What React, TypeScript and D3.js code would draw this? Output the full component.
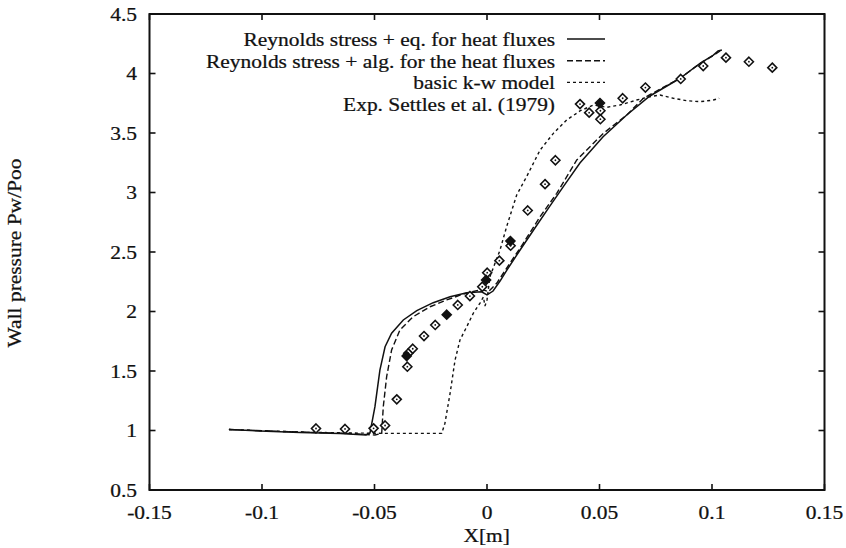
import React from "react";
import * as d3 from "d3";

// Reynolds stress + eq. for heat fluxes (solid)
const rsEqX = [-0.1147, -0.1009, -0.0831, -0.0653, -0.0538, -0.052, -0.0498, -0.0476, -0.0453, -0.0424, -0.0372, -0.0312, -0.0239, -0.0164, -0.009, -0.0024, 0.0, 0.0027, 0.0058, 0.0089, 0.0147, 0.0213, 0.028, 0.0347, 0.0413, 0.0516, 0.0621, 0.0724, 0.0858, 0.0947, 0.1006, 0.1027, 0.1044];
const rsEqY = [1.008, 0.996, 0.983, 0.975, 0.962, 0.979, 1.2, 1.508, 1.704, 1.817, 1.929, 2.007, 2.074, 2.124, 2.158, 2.166, 2.139, 2.172, 2.256, 2.349, 2.517, 2.702, 2.887, 3.071, 3.248, 3.469, 3.651, 3.811, 3.96, 4.086, 4.155, 4.189, 4.197];

// Reynolds stress + alg. for the heat fluxes (dashed)
const rsAlgX = [-0.1147, -0.0831, -0.0609, -0.0498, -0.0468, -0.0461, -0.0446, -0.0424, -0.0387, -0.0328, -0.0253, -0.0179, -0.0105, -0.0046, -0.0016, 0.0006, 0.0043, 0.0102, 0.0161, 0.0236, 0.031, 0.0399, 0.0517, 0.0621, 0.0695, 0.0858, 0.0947, 0.1009, 0.1036];
const rsAlgY = [1.008, 0.987, 0.975, 0.962, 0.976, 1.2, 1.452, 1.676, 1.845, 1.956, 2.04, 2.097, 2.147, 2.175, 2.181, 2.166, 2.237, 2.405, 2.573, 2.797, 2.993, 3.273, 3.497, 3.651, 3.792, 3.96, 4.084, 4.155, 4.189];

// basic k-w model (dotted)
const kwX = [-0.1147, -0.0831, -0.0609, -0.0462, -0.0201, -0.0187, -0.0164, -0.0142, -0.012, -0.009, -0.0061, -0.0031, -0.0016, -0.0009, 0.0, 0.0013, 0.0058, 0.0088, 0.0132, 0.0176, 0.0236, 0.0295, 0.0354, 0.0413, 0.0472, 0.0532, 0.0591, 0.0665, 0.0724, 0.0769, 0.0828, 0.0888, 0.0947, 0.1006, 0.1032];
const kwY = [1.008, 0.987, 0.979, 0.976, 0.976, 1.061, 1.313, 1.592, 1.761, 1.872, 1.985, 2.071, 2.122, 2.046, 2.097, 2.292, 2.517, 2.718, 2.979, 3.133, 3.357, 3.497, 3.609, 3.685, 3.735, 3.716, 3.735, 3.777, 3.805, 3.819, 3.792, 3.771, 3.763, 3.777, 3.792];

// Exp. Settles et al. (1979) - open diamonds
const expX = [-0.076, -0.0631, -0.0504, -0.0453, -0.0401, -0.0354, -0.035, -0.033, -0.028, -0.023, -0.013, -0.0076, -0.0021, 0.0001, 0.0055, 0.0105, 0.0181, 0.0258, 0.0304, 0.0454, 0.0504, 0.0504, 0.0603, 0.0704, 0.0861, 0.0961, 0.1062, 0.1164, 0.1268];
const expY = [1.017, 1.013, 1.018, 1.042, 1.262, 1.536, 1.649, 1.687, 1.794, 1.887, 2.055, 2.13, 2.208, 2.326, 2.427, 2.553, 2.849, 3.07, 3.271, 3.671, 3.687, 3.616, 3.792, 3.882, 3.954, 4.063, 4.133, 4.099, 4.049];

// filled markers (overlapping experimental points)
const expFilledX = [-0.0357, -0.0179, -0.0004, 0.0104, 0.0502];
const expFilledY = [1.626, 1.973, 2.265, 2.592, 3.752];

const xTicks = [-0.15, -0.1, -0.05, 0, 0.05, 0.1, 0.15];
const xTickLabels = ["-0.15", "-0.1", "-0.05", "0", "0.05", "0.1", "0.15"];
const yTicks = [0.5, 1, 1.5, 2, 2.5, 3, 3.5, 4, 4.5];
const yTickLabels = ["0.5", "1", "1.5", "2", "2.5", "3", "3.5", "4", "4.5"];

const legendLabels = [
  "Reynolds stress + eq. for heat fluxes",
  "Reynolds stress + alg. for the heat fluxes",
  "basic k-w model",
  "Exp. Settles et al. (1979)",
];

const W = 846;
const H = 548;
const left = 149.5;
const right = 824.5;
const top = 14;
const bottom = 490;

const FONT = "'Liberation Serif', 'DejaVu Serif', serif";
const FS = 19.5;
const SX = 1.1;

function Diamond({ cx, cy, filled }: { cx: number; cy: number; filled?: boolean }) {
  const r = 4.5;
  const d = `M${cx},${cy - r}L${cx + r},${cy}L${cx},${cy + r}L${cx - r},${cy}Z`;
  return (
    <g>
      <path d={d} fill={filled ? "#111" : "white"} stroke="#111" strokeWidth={1.6} />
      {!filled && <circle cx={cx} cy={cy} r={0.9} fill="#111" />}
    </g>
  );
}

function T({
  x,
  y,
  anchor,
  dy,
  rotate,
  children,
}: {
  x: number;
  y: number;
  anchor: "start" | "middle" | "end";
  dy?: string;
  rotate?: number;
  children: React.ReactNode;
}) {
  const tr = `translate(${x},${y})${rotate ? ` rotate(${rotate})` : ""} scale(${SX},1)`;
  return (
    <text
      transform={tr}
      dy={dy}
      textAnchor={anchor}
      fontSize={FS}
      fill="#111"
      stroke="#111"
      strokeWidth={0.25}
    >
      {children}
    </text>
  );
}

export default function App() {
  const x = d3.scaleLinear().domain([-0.15, 0.15]).range([left, right]);
  const y = d3.scaleLinear().domain([0.5, 4.5]).range([bottom, top]);

  const line = (xs: number[], ys: number[]) =>
    d3
      .line<number>()
      .x((_, i) => x(xs[i]))
      .y((_, i) => y(ys[i]))(xs) || "";

  const tickLen = 6;
  const legendTextX = 555;
  const sampleX0 = 567;
  const sampleX1 = 605;
  const legendY = [39, 60.7, 82.4, 104.1];

  return (
    <svg
      width={W}
      height={H}
      style={{ position: "absolute", left: 0, top: 0, background: "white" }}
      fontFamily={FONT}
    >
      <rect x={0} y={0} width={W} height={H} fill="white" />
      {/* curves */}
      <path d={line(kwX, kwY)} fill="none" stroke="#111" strokeWidth={1.4} strokeDasharray="3,3" />
      <path d={line(rsAlgX, rsAlgY)} fill="none" stroke="#111" strokeWidth={1.4} strokeDasharray="6,3" />
      <path d={line(rsEqX, rsEqY)} fill="none" stroke="#111" strokeWidth={1.5} />
      {expX.map((v, i) => (
        <Diamond key={"e" + i} cx={x(v)} cy={y(expY[i])} />
      ))}
      {expFilledX.map((v, i) => (
        <Diamond key={"f" + i} cx={x(v)} cy={y(expFilledY[i])} filled />
      ))}

      {/* frame */}
      <rect x={left} y={top} width={right - left} height={bottom - top} fill="none" stroke="#111" strokeWidth={2} />
      {xTicks.map((t, i) => (
        <g key={"xt" + i}>
          <line x1={x(t)} x2={x(t)} y1={bottom} y2={bottom - tickLen} stroke="#111" strokeWidth={1.6} />
          <line x1={x(t)} x2={x(t)} y1={top} y2={top + tickLen} stroke="#111" strokeWidth={1.6} />
          <T x={x(t)} y={519} anchor="middle">
            {xTickLabels[i]}
          </T>
        </g>
      ))}
      {yTicks.map((t, i) => (
        <g key={"yt" + i}>
          <line x1={left} x2={left + tickLen} y1={y(t)} y2={y(t)} stroke="#111" strokeWidth={1.6} />
          <line x1={right} x2={right - tickLen} y1={y(t)} y2={y(t)} stroke="#111" strokeWidth={1.6} />
          <T x={137} y={y(t)} dy="0.35em" anchor="end">
            {yTickLabels[i]}
          </T>
        </g>
      ))}

      {/* axis titles */}
      <T x={486.7} y={542} anchor="middle">
        X[m]
      </T>
      <T x={21} y={253} rotate={-90} anchor="middle">
        Wall pressure Pw/Poo
      </T>

      {/* legend */}
      {legendLabels.map((l, i) => (
        <T key={"l" + i} x={legendTextX} y={legendY[i]} dy="0.35em" anchor="end">
          {l}
        </T>
      ))}
      <line x1={sampleX0} x2={sampleX1} y1={legendY[0]} y2={legendY[0]} stroke="#111" strokeWidth={1.5} />
      <line x1={sampleX0} x2={sampleX1} y1={legendY[1]} y2={legendY[1]} stroke="#111" strokeWidth={1.4} strokeDasharray="6,3" />
      <line x1={sampleX0} x2={sampleX1} y1={legendY[2]} y2={legendY[2]} stroke="#111" strokeWidth={1.4} strokeDasharray="3,3" />
      <Diamond cx={580} cy={legendY[3]} />
    </svg>
  );
}
